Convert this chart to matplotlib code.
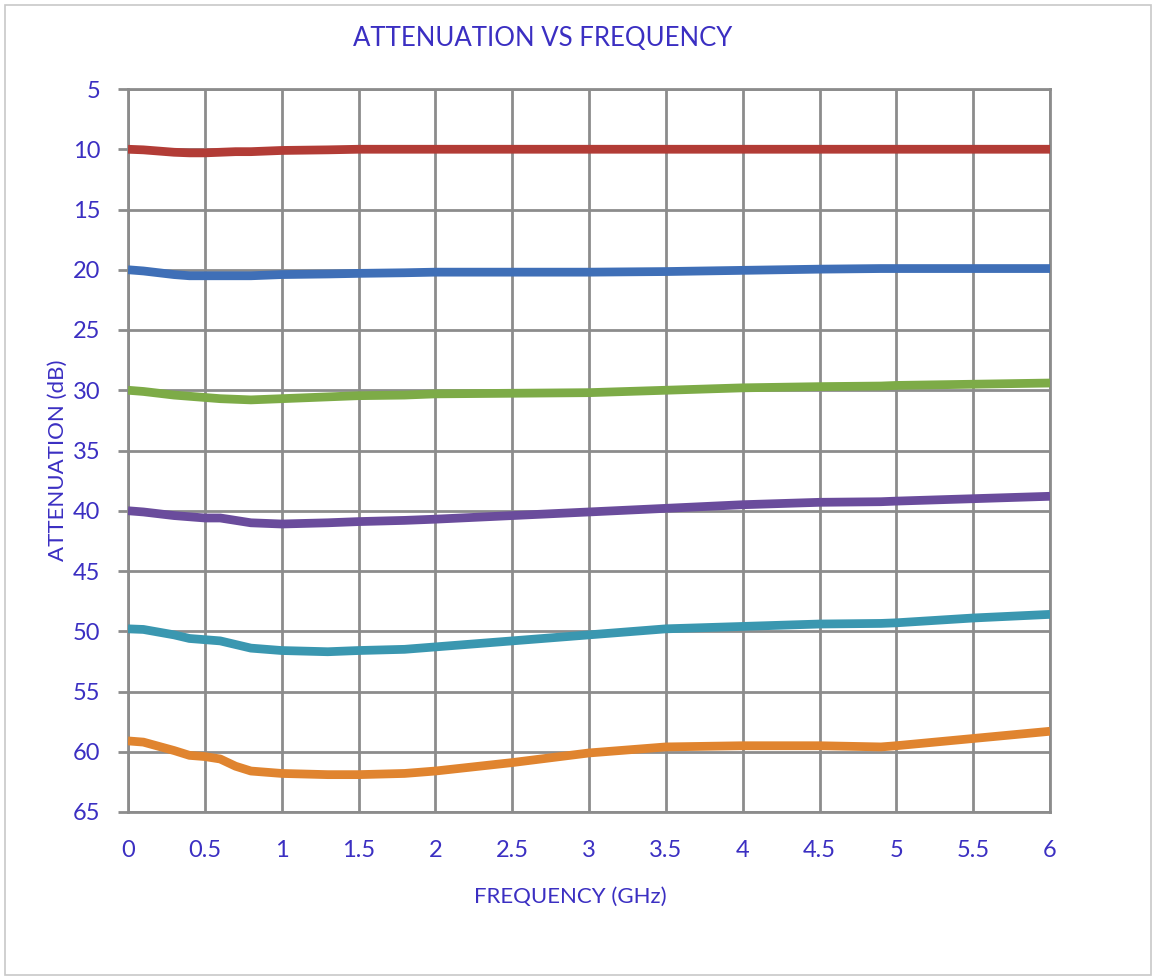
import matplotlib
matplotlib.use("Agg")
import matplotlib.pyplot as plt
from matplotlib.patches import Rectangle

plt.rcParams['font.family'] = ['Lato', 'DejaVu Sans']

# frequency points (GHz) and attenuation curves (dB)
freq = [0, 0.1, 0.3, 0.4, 0.5, 0.6, 0.7, 0.8, 0.9, 1.0, 1.3, 1.5, 1.8, 2.0, 2.5,
        3.0, 3.5, 4.0, 4.5, 4.9, 5.0, 5.5, 6.0]
att_10 = [10.0, 10.05, 10.25, 10.3, 10.3, 10.25, 10.2, 10.2, 10.15, 10.1, 10.05, 10.0, 10.0, 10.0, 10.0,
          10.0, 10.0, 10.0, 10.0, 10.0, 10.0, 10.0, 10.0]
att_20 = [20.0, 20.1, 20.4, 20.5, 20.5, 20.5, 20.5, 20.5, 20.45, 20.4, 20.35, 20.3, 20.25, 20.2, 20.2,
          20.2, 20.15, 20.05, 19.95, 19.9, 19.9, 19.9, 19.9]
att_30 = [30.0, 30.1, 30.4, 30.5, 30.6, 30.7, 30.75, 30.8, 30.75, 30.7, 30.55, 30.45, 30.4, 30.3, 30.25,
          30.2, 30.0, 29.8, 29.7, 29.65, 29.6, 29.5, 29.4]
att_40 = [40.0, 40.1, 40.4, 40.5, 40.6, 40.6, 40.8, 41.0, 41.05, 41.1, 41.0, 40.9, 40.8, 40.7, 40.4,
          40.1, 39.8, 39.5, 39.3, 39.25, 39.2, 39.0, 38.8]
att_50 = [49.8, 49.85, 50.3, 50.6, 50.7, 50.8, 51.1, 51.4, 51.5, 51.6, 51.7, 51.6, 51.5, 51.3, 50.8,
          50.3, 49.8, 49.6, 49.4, 49.35, 49.3, 48.9, 48.6]
att_60 = [59.1, 59.2, 59.9, 60.3, 60.4, 60.6, 61.2, 61.6, 61.7, 61.8, 61.9, 61.9, 61.8, 61.6, 60.9,
          60.1, 59.6, 59.5, 59.5, 59.6, 59.5, 58.9, 58.3]

series = [att_10, att_20, att_30, att_40, att_50, att_60]
colors = ['#b23c36', '#3f6fb7', '#7dab47', '#6a4c9c', '#3a97b0', '#e0842f']

txt = '#3b2fc2'
grid_c = '#8c8c8c'

fig = plt.figure(figsize=(11.58, 9.77), dpi=100)
fig.patches.append(Rectangle((5 / 1158, 2 / 977), 1146 / 1158, 970 / 977, transform=fig.transFigure,
                             fill=False, edgecolor='#c8c8c8', linewidth=1.2))
ax = fig.add_axes([128 / 1158, 1 - 812 / 977, (1050 - 128) / 1158, (812 - 89) / 977])

for y, c in zip(series, colors):
    ax.plot(freq, y, color=c, linewidth=6.3, solid_capstyle='butt', zorder=3)

ax.set_xlim(0, 6)
ax.set_ylim(65, 5)
ax.set_xticks([i * 0.5 for i in range(13)])
ax.set_xticklabels(['0', '0.5', '1', '1.5', '2', '2.5', '3', '3.5', '4', '4.5', '5', '5.5', '6'])
ax.set_yticks(range(5, 66, 5))

ax.grid(True, color=grid_c, linewidth=2)
for s in ax.spines.values():
    s.set_color(grid_c)
    s.set_linewidth(2)
ax.tick_params(axis='y', colors=grid_c, labelcolor=txt, labelsize=17, length=7, width=2, pad=13)
ax.tick_params(axis='x', colors=grid_c, labelcolor=txt, labelsize=17, length=0, pad=20)

fig.text(543 / 1158, 1 - 38 / 977, 'ATTENUATION VS FREQUENCY', color=txt, fontsize=18.5,
         ha='center', va='center')
fig.text(570 / 1158, 1 - 897 / 977, 'FREQUENCY (GHz)', color=txt, fontsize=16,
         ha='center', va='center')
fig.text(58 / 1158, 1 - 460 / 977, 'ATTENUATION (dB)', color=txt, fontsize=16,
         ha='center', va='center', rotation=90)

fig.savefig('out.png', dpi=100)
